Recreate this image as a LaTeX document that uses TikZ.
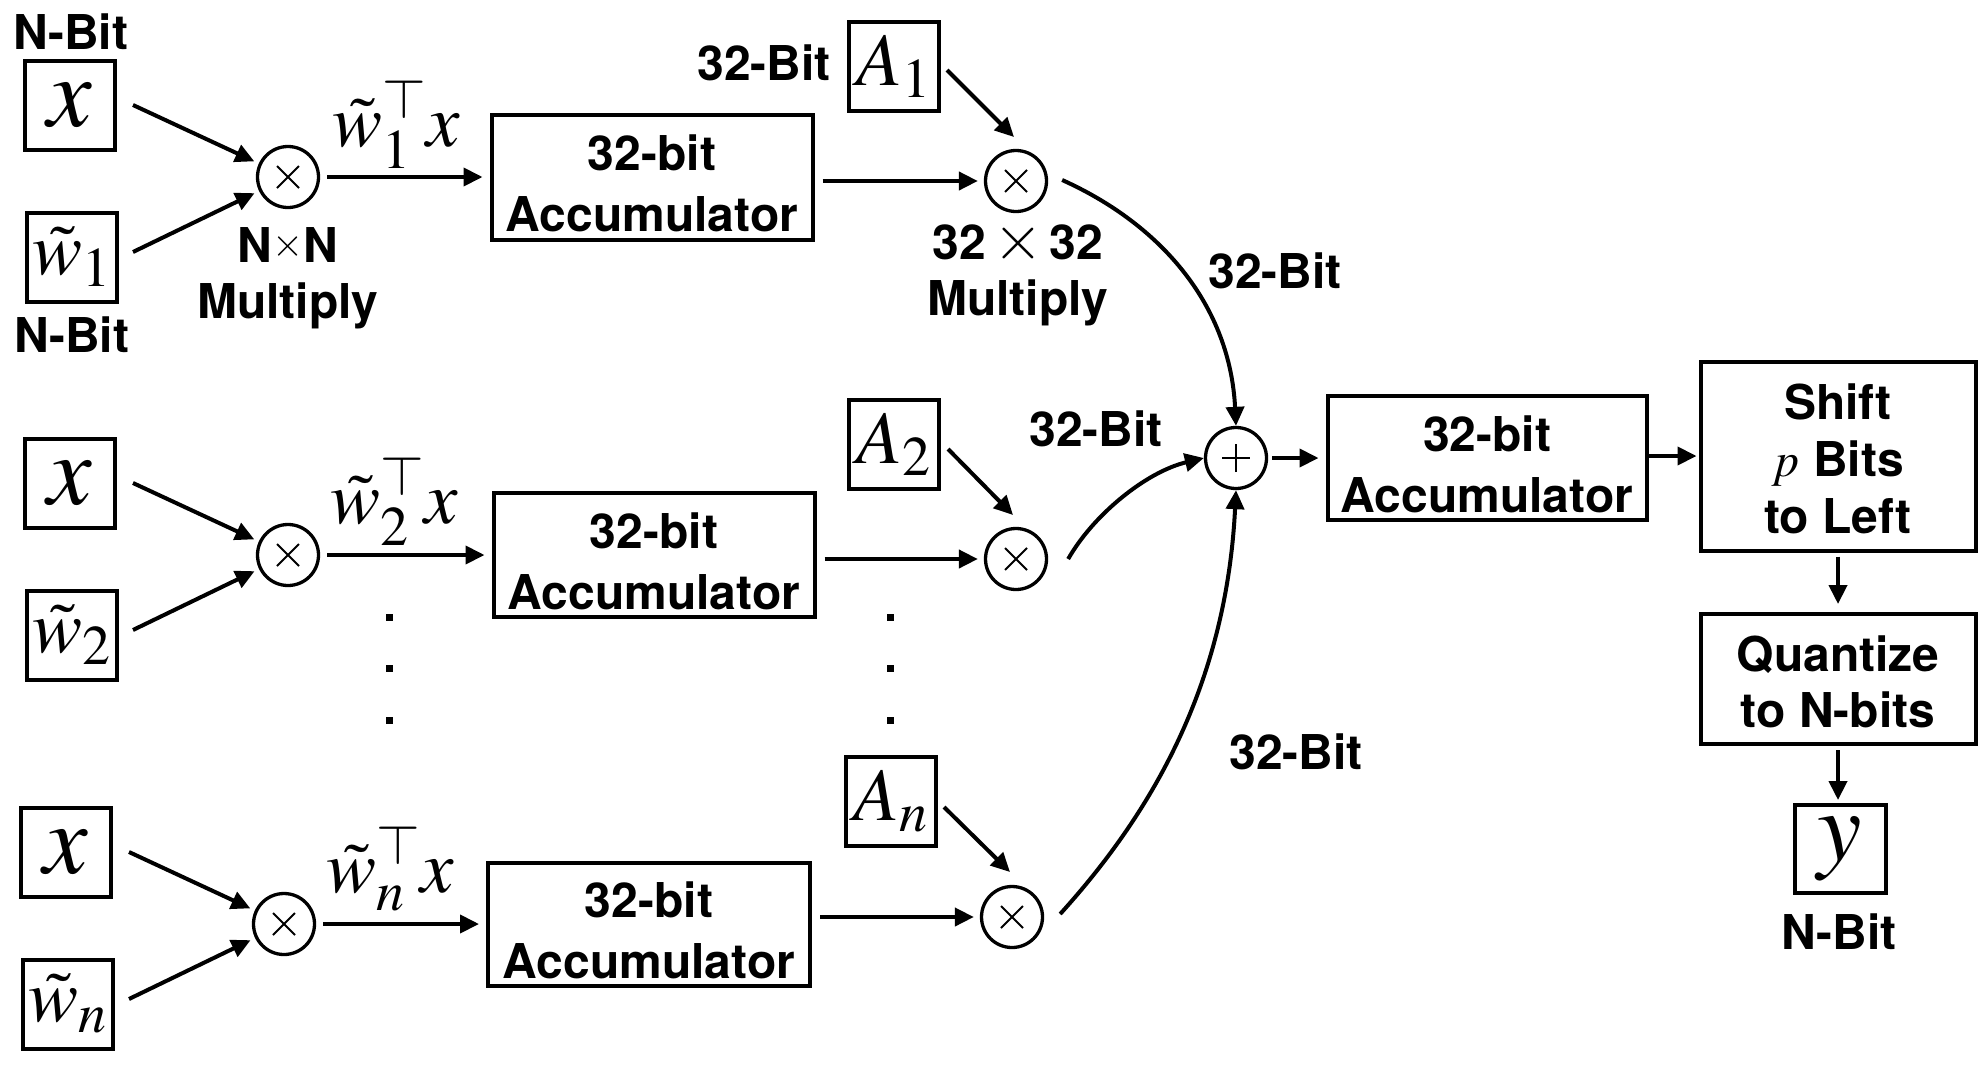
\documentclass[tikz,border=0pt]{standalone}
\usepackage{mathptmx}
\usepackage[no-math]{fontspec}
\setmainfont{TeX Gyre Heros}
\usetikzlibrary{arrows.meta,calc}
\DeclareMathSizes{75}{75}{56}{42}
\DeclareMathSizes{100}{100}{70}{50}
\newcommand{\bigtimes}{\smash{{\fontsize{64pt}{64pt}\selectfont$\mathord{\times}$}}}
\newcommand{\smtimes}{\smash{\raisebox{6pt}{\fontsize{40pt}{40pt}\selectfont$\mathord{\times}$}}}
\tikzset{
  txt/.style={inner sep=0pt, align=center, font=\bfseries\fontsize{48pt}{56pt}\selectfont},
  blk/.style={draw, line width=4pt, inner sep=0pt},
  blktxt/.style={inner sep=0pt, align=center, font=\bfseries\fontsize{48pt}{61pt}\selectfont},
  vbox/.style={draw, line width=4pt, inner sep=0pt, minimum width=90pt, minimum height=89pt},
  big/.style={font=\fontsize{100pt}{100pt}\selectfont},
  mid/.style={font=\fontsize{75pt}{75pt}\selectfont},
  mul/.style={draw, circle, line width=3.3pt, minimum size=61pt, inner sep=0pt,
    path picture={\draw[line width=2pt]
      ([shift={(-11pt,-11pt)}]path picture bounding box.center) -- ([shift={(11pt,11pt)}]path picture bounding box.center)
      ([shift={(-11pt,11pt)}]path picture bounding box.center) -- ([shift={(11pt,-11pt)}]path picture bounding box.center);}},
  add/.style={draw, circle, line width=3.3pt, minimum size=61pt, inner sep=0pt,
    path picture={\draw[line width=2pt]
      ([xshift=-14pt]path picture bounding box.center) -- ([xshift=14pt]path picture bounding box.center)
      ([yshift=-14pt]path picture bounding box.center) -- ([yshift=14pt]path picture bounding box.center);}},
  arr/.style={line width=4pt, -{Triangle[length=19pt,width=18pt]}},
}
\begin{document}
\begin{tikzpicture}[x=1pt,y=-1pt]
\useasboundingbox (0,0) rectangle (1988,1074);

% ---------- row 1 ----------
\node[txt] (nb1) at (71,32) {N-Bit};
\node[vbox,big] (x1) at (70,105) {$x$};
\node[vbox,mid] (w1) at (72,257) {$\tilde{w}_1$};
\node[txt] (nb2) at (72,335) {N-Bit};
\node[mul] (m1) at (288,177) {};
\node[txt, anchor=north] (ml1) at (288,227) {N\smtimes N\\Multiply};
\node[mid, anchor=base, inner sep=0pt] (l1) at (396,146) {$\tilde{w}_1^{\top}x$};
\node[blk, minimum width=321pt, minimum height=125pt] (acc1) at (652,177) {};
\node[blktxt] (acc1t) at ([yshift=-6pt]acc1.center) {32-bit\\Accumulator};
\node[vbox,mid] (A1) at (894,66) {$A_1$};
\node[txt] (b1) at (764,63) {32-Bit};
\node[mul] (mb1) at (1016,181) {};
\node[txt, anchor=north] (ml2) at (1018,225) {32\hspace{7pt}\bigtimes\hspace{7pt}32\\Multiply};

% ---------- row 2 ----------
\node[vbox,big] (x2) at (70,483) {$x$};
\node[vbox,mid] (w2) at (72,635) {$\tilde{w}_2$};
\node[mul] (m2) at (288,555) {};
\node[mid, anchor=base, inner sep=0pt] (l2) at (394,523) {$\tilde{w}_2^{\top}x$};
\node[blk, minimum width=321pt, minimum height=124pt] (acc2) at (654,555) {};
\node[blktxt] (acc2t) at ([yshift=-6pt]acc2.center) {32-bit\\Accumulator};
\node[vbox,mid] (A2) at (894,444) {$A_2$};
\node[mul] (mb2) at (1016,559) {};

% ---------- row n ----------
\node[vbox,big] (xn) at (66,852) {$x$};
\node[vbox,mid] (wn) at (68,1004) {$\tilde{w}_n$};
\node[mul] (mn) at (284,924) {};
\node[mid, anchor=base, inner sep=0pt] (ln) at (390,892) {$\tilde{w}_n^{\top}x$};
\node[blk, minimum width=322pt, minimum height=123pt] (accn) at (649,924) {};
\node[blktxt] (accnt) at ([yshift=-6pt]accn.center) {32-bit\\Accumulator};
\node[vbox,mid] (An) at (891,801) {$A_n$};
\node[mul] (mbn) at (1012,917) {};

% ---------- right part ----------
\node[add] (sum) at (1236,458) {};
\node[txt] (b2) at (1275,271) {32-Bit};
\node[txt] (b3) at (1096,429) {32-Bit};
\node[txt] (b4) at (1296,752) {32-Bit};
\node[blk, minimum width=319pt, minimum height=124pt] (accf) at (1487,458) {};
\node[blktxt] (accft) at ([yshift=-6pt]accf.center) {32-bit\\Accumulator};
\node[blk, minimum width=275pt, minimum height=189pt] (shift) at (1838,456) {};
\node[blktxt, font=\bfseries\fontsize{48pt}{57pt}\selectfont] (shiftt) at ([yshift=-3pt]shift.center) {Shift\\$p$ Bits\\to Left};
\node[blk, minimum width=275pt, minimum height=130pt] (quant) at (1838,679) {};
\node[blktxt, font=\bfseries\fontsize{48pt}{56pt}\selectfont] (quantt) at ([yshift=-3pt]quant.center) {Quantize\\to N-bits};
\node[vbox,big, minimum width=91pt, minimum height=88pt] (yb) at (1840,849) {$y$};
\node[txt] (nb3) at (1839,932) {N-Bit};

% dots
\foreach \yy in {617,668,720} {
  \fill (385.5,\yy-3.5) rectangle +(7,7);
  \fill (886.5,\yy-3.5) rectangle +(7,7);
}

% ---------- connectors ----------
\draw[arr, shorten >=5pt] ([xshift=16pt]x1.east) -- (m1);
\draw[arr, shorten >=5pt] ([shift={(14,-5)}]w1.east) -- (m1);
\draw[arr, shorten <=7pt, shorten >=7pt] (m1) -- (acc1);
\draw[arr, shorten <=8pt, shorten >=6pt] (acc1.east |- mb1) -- (mb1);
\draw[arr] ([shift={(6,4)}]A1.east) -- ([shift={(-2,-44)}]mb1.center);

\draw[arr, shorten >=5pt] ([xshift=16pt]x2.east) -- (m2);
\draw[arr, shorten >=5pt] ([shift={(14,-5)}]w2.east) -- (m2);
\draw[arr, shorten <=7pt, shorten >=7pt] (m2) -- (acc2);
\draw[arr, shorten <=8pt, shorten >=6pt] (acc2.east |- mb2) -- (mb2);
\draw[arr] ([shift={(7,5)}]A2.east) -- ([shift={(-3,-44)}]mb2.center);

\draw[arr, shorten >=5pt] ([xshift=16pt]xn.east) -- (mn);
\draw[arr, shorten >=5pt] ([shift={(14,-5)}]wn.east) -- (mn);
\draw[arr, shorten <=7pt, shorten >=7pt] (mn) -- (accn);
\draw[arr, shorten <=8pt, shorten >=6pt] (accn.east |- mbn) -- (mbn);
\draw[arr] ([shift={(6,6)}]An.east) -- ([shift={(-2,-45)}]mbn.center);

\draw[arr] ([shift={(14,-1)}]mb1.east) .. controls +(100,45) and +(-6,-120) .. (sum.north);
\draw[arr] ([xshift=20pt]mb2.east) .. controls +(25,-44) and +(-58,14) .. (sum.west);
\draw[arr] ([shift={(16,-3)}]mbn.east) .. controls +(87,-96) and +(-10,200) .. (sum.south);

\draw[arr, shorten <=4pt, shorten >=7pt] (sum) -- (accf);
\draw[arr, shorten >=2pt] (accf.east |- shift.west) -- (shift.west);
\draw[arr, shorten <=4pt, shorten >=8pt] (shift) -- (quant);
\draw[arr, shorten <=4pt, shorten >=3pt] (quant.south) -- (quant.south |- yb.north);
\end{tikzpicture}
\end{document}
